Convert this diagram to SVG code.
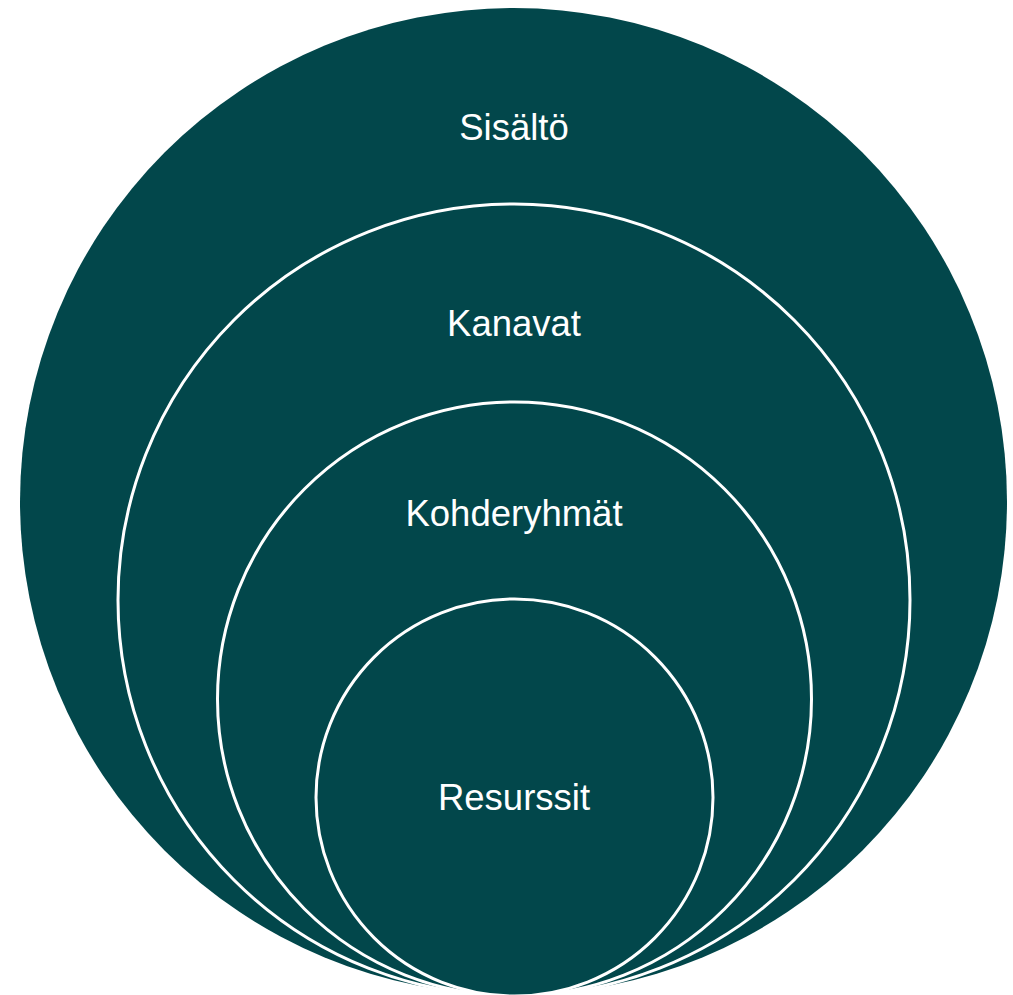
<svg xmlns="http://www.w3.org/2000/svg" width="1013" height="995" viewBox="0 0 1013 995">
<style>
.c{fill:#02474B}
.i{fill:#02474B;stroke:#FFFFFF;stroke-width:3}
.t{font-family:"Liberation Sans",Arial,sans-serif;font-size:36.5px;fill:#FFFFFF;text-anchor:middle}
</style>
<rect width="1013" height="995" fill="#FFFFFF"/>
<g id="sisalto"><circle class="c" cx="513.5" cy="501.5" r="493.5"/><text class="t" x="514" y="140">Sisältö</text></g>
<g id="kanavat"><circle class="i" cx="514" cy="600" r="396"/><text class="t" x="514" y="336">Kanavat</text></g>
<g id="kohderyhmat"><circle class="i" cx="514.5" cy="699" r="297"/><text class="t" x="514" y="526">Kohderyhmät</text></g>
<g id="resurssit"><circle class="i" cx="514.5" cy="797.5" r="198.5"/><text class="t" x="514" y="810">Resurssit</text></g>
<g id="connectors"/>
</svg>
